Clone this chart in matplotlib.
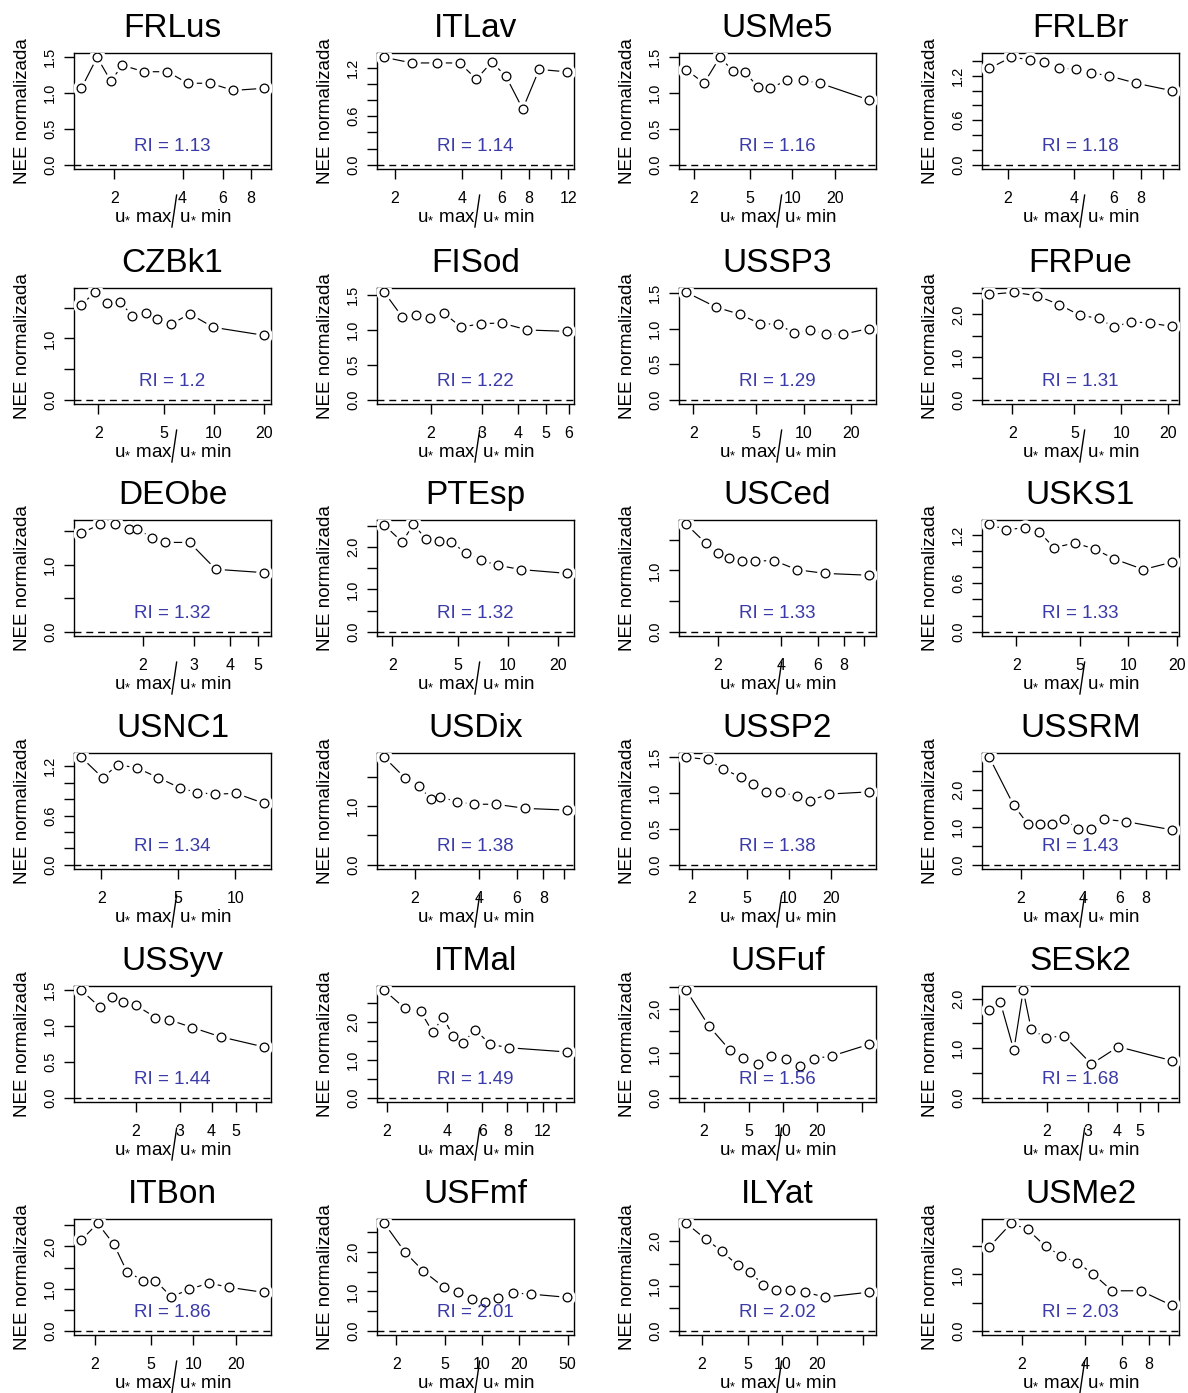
import numpy as np
import matplotlib
matplotlib.use("Agg")
import matplotlib.pyplot as plt
from matplotlib.ticker import FixedLocator, FixedFormatter, NullLocator

plt.rcParams['font.family'] = ['Liberation Sans', 'DejaVu Sans']
plt.rcParams['mathtext.fontset'] = 'custom'
plt.rcParams['mathtext.rm'] = 'Liberation Sans'
plt.rcParams['mathtext.it'] = 'Liberation Sans'

# sites, ordered by RI
sites = ['FRLus', 'ITLav', 'USMe5', 'FRLBr',
         'CZBk1', 'FISod', 'USSP3', 'FRPue',
         'DEObe', 'PTEsp', 'USCed', 'USKS1',
         'USNC1', 'USDix', 'USSP2', 'USSRM',
         'USSyv', 'ITMal', 'USFuf', 'SESk2',
         'ITBon', 'USFmf', 'ILYat', 'USMe2']

ri_values = [1.13, 1.14, 1.16, 1.18,
             1.2, 1.22, 1.29, 1.31,
             1.32, 1.32, 1.33, 1.33,
             1.34, 1.38, 1.38, 1.43,
             1.44, 1.49, 1.56, 1.68,
             1.86, 2.01, 2.02, 2.03]

# u* max / u* min
ustar_ratio = [
    [1.43, 1.68, 1.93, 2.17, 2.70, 3.43, 4.21, 5.30, 6.69, 9.11],
    [1.79, 2.38, 3.08, 3.90, 4.64, 5.43, 6.28, 7.49, 8.88, 11.8],
    [1.77, 2.36, 3.06, 3.80, 4.61, 5.70, 6.94, 9.11, 11.8, 15.7, 34.7],
    [1.65, 2.07, 2.51, 2.92, 3.42, 4.07, 4.76, 5.73, 7.60, 11.0],
    [1.58, 1.92, 2.27, 2.70, 3.22, 3.88, 4.51, 5.52, 7.14, 9.90, 20.0],
    [1.38, 1.59, 1.77, 1.99, 2.22, 2.54, 2.98, 3.52, 4.30, 5.89],
    [1.81, 2.80, 3.95, 5.28, 6.90, 8.63, 11.0, 13.9, 17.7, 25.7],
    [1.42, 2.04, 2.87, 4.00, 5.43, 7.17, 9.0, 11.5, 15.2, 21.1],
    [1.23, 1.43, 1.61, 1.80, 1.92, 2.15, 2.39, 2.90, 3.57, 5.22],
    [1.79, 2.30, 2.68, 3.21, 3.84, 4.54, 5.59, 6.88, 8.71, 12.0, 22.7],
    [1.41, 1.75, 2.0, 2.26, 2.60, 3.00, 3.70, 4.77, 6.49, 10.5],
    [1.36, 1.74, 2.26, 2.77, 3.44, 4.65, 6.21, 8.18, 12.4, 18.6],
    [1.57, 2.03, 2.44, 3.07, 3.97, 5.12, 6.30, 7.84, 10.1, 14.1],
    [1.44, 1.81, 2.09, 2.38, 2.62, 3.15, 3.79, 4.81, 6.58, 10.3],
    [1.83, 2.62, 3.37, 4.53, 5.52, 6.84, 8.62, 11.4, 14.1, 19.4, 37.4],
    [1.41, 1.85, 2.16, 2.49, 2.84, 3.25, 3.79, 4.37, 5.04, 6.42, 10.7],
    [1.21, 1.43, 1.61, 1.77, 2.0, 2.39, 2.70, 3.35, 4.35, 6.45],
    [1.95, 2.46, 2.96, 3.40, 3.82, 4.29, 4.81, 5.53, 6.57, 8.19, 15.8],
    [1.39, 2.21, 3.39, 4.43, 6.0, 7.83, 10.6, 14.1, 18.8, 27.2, 57.7],
    [1.13, 1.26, 1.44, 1.58, 1.71, 1.98, 2.36, 3.10, 4.04, 6.85],
    [1.61, 2.10, 2.74, 3.39, 4.42, 5.39, 7.0, 9.28, 12.9, 18.0, 31.5],
    [1.60, 2.37, 3.32, 4.92, 6.39, 8.31, 10.6, 13.5, 17.9, 25.1, 49.2],
    [1.47, 2.18, 2.98, 4.10, 5.20, 6.86, 8.88, 11.7, 15.8, 23.4, 56.0],
    [1.40, 1.78, 2.13, 2.59, 3.08, 3.67, 4.36, 5.36, 7.34, 10.3],
]

# normalised NEE
nee_norm = [
    [1.06, 1.49, 1.16, 1.38, 1.29, 1.29, 1.13, 1.13, 1.03, 1.06],
    [1.33, 1.26, 1.26, 1.26, 1.06, 1.27, 1.10, 0.69, 1.18, 1.15],
    [1.32, 1.13, 1.49, 1.30, 1.28, 1.08, 1.06, 1.17, 1.17, 1.13, 0.90],
    [1.30, 1.45, 1.42, 1.38, 1.30, 1.29, 1.24, 1.20, 1.10, 1.00],
    [1.55, 1.75, 1.57, 1.59, 1.37, 1.42, 1.32, 1.23, 1.40, 1.18, 1.05],
    [1.54, 1.19, 1.22, 1.17, 1.24, 1.04, 1.09, 1.10, 1.00, 0.98],
    [1.51, 1.30, 1.20, 1.07, 1.06, 0.94, 0.98, 0.92, 0.92, 1.00],
    [2.47, 2.52, 2.44, 2.23, 1.98, 1.91, 1.70, 1.83, 1.80, 1.72],
    [1.47, 1.60, 1.60, 1.53, 1.53, 1.40, 1.33, 1.33, 0.93, 0.88],
    [2.52, 2.12, 2.54, 2.19, 2.14, 2.12, 1.86, 1.69, 1.57, 1.47, 1.38],
    [1.75, 1.44, 1.28, 1.20, 1.16, 1.15, 1.16, 1.01, 0.95, 0.92],
    [1.33, 1.26, 1.29, 1.24, 1.04, 1.10, 1.02, 0.90, 0.77, 0.86],
    [1.31, 1.06, 1.22, 1.18, 1.06, 0.94, 0.88, 0.86, 0.87, 0.75],
    [1.83, 1.47, 1.34, 1.12, 1.16, 1.07, 1.03, 1.03, 0.96, 0.93],
    [1.49, 1.46, 1.33, 1.21, 1.12, 1.01, 1.01, 0.95, 0.89, 0.98, 1.01],
    [2.86, 1.58, 1.09, 1.09, 1.09, 1.21, 0.95, 0.95, 1.21, 1.15, 0.93],
    [1.50, 1.27, 1.40, 1.33, 1.29, 1.12, 1.09, 0.98, 0.85, 0.71],
    [2.84, 2.37, 2.28, 1.73, 2.13, 1.64, 1.45, 1.80, 1.41, 1.32, 1.21],
    [2.42, 1.61, 1.07, 0.90, 0.76, 0.93, 0.88, 0.72, 0.88, 0.94, 1.20],
    [1.78, 1.93, 0.96, 2.17, 1.38, 1.21, 1.25, 0.68, 1.03, 0.75],
    [2.15, 2.55, 2.05, 1.40, 1.19, 1.19, 0.80, 0.98, 1.13, 1.03, 0.91],
    [2.73, 1.99, 1.52, 1.10, 0.99, 0.81, 0.73, 0.83, 0.96, 0.93, 0.85],
    [2.40, 2.04, 1.78, 1.46, 1.32, 1.02, 0.90, 0.92, 0.86, 0.75, 0.86],
    [1.49, 1.91, 1.80, 1.50, 1.33, 1.21, 1.01, 0.71, 0.71, 0.45],
]

# x ticks of each panel, and the ones whose label R dropped
x_tick_values = [
    [2, 4, 6, 8], [2, 4, 6, 8, 10, 12], [2, 5, 10, 20], [2, 4, 6, 8, 10],
    [2, 5, 10, 20], [2, 3, 4, 5, 6], [2, 5, 10, 20], [2, 5, 10, 20],
    [2, 3, 4, 5], [2, 5, 10, 20], [2, 4, 6, 8, 10], [2, 5, 10, 20],
    [2, 5, 10], [2, 4, 6, 8, 10], [2, 5, 10, 20], [2, 4, 6, 8, 10],
    [2, 3, 4, 5, 6], [2, 4, 6, 8, 10, 12, 14], [2, 5, 10, 20, 50], [2, 3, 4, 5, 6],
    [2, 5, 10, 20], [2, 5, 10, 20, 50], [2, 5, 10, 20, 50], [2, 4, 6, 8, 10],
]
x_tick_hidden = [
    [], [10], [], [10],
    [], [], [], [],
    [], [], [10], [],
    [], [10], [], [10],
    [6], [10, 14], [50], [6],
    [], [], [50], [10],
]

# y tick spacing and spacing of the labelled ticks
y_tick_step = [0.5, 0.2, 0.5, 0.2,
               0.5, 0.5, 0.5, 0.5,
               0.5, 0.5, 0.5, 0.2,
               0.2, 0.5, 0.5, 0.5,
               0.5, 0.5, 0.5, 0.5,
               0.5, 0.5, 0.5, 0.5]
y_label_step = [0.5, 0.6, 0.5, 0.6,
                1.0, 0.5, 0.5, 1.0,
                1.0, 1.0, 1.0, 0.6,
                0.6, 1.0, 0.5, 1.0,
                0.5, 1.0, 1.0, 1.0,
                1.0, 1.0, 1.0, 1.0]

W, H = 1188, 1393
fig = plt.figure(figsize=(W / 100, H / 100), dpi=100)
fig.patch.set_facecolor('white')

col_left = [74, 377, 679, 982]
row_top = [53, 288, 520, 753, 986, 1219]
aw, ah = 197, 116

# the slash is drawn on its own, tall and thin, like the R plotmath label
xlab = r'$\mathregular{u_{*}\ max\;\;u_{*}\ min}$'

for i, site in enumerate(sites):
    r, c = divmod(i, 4)
    ax = fig.add_axes([col_left[c] / W, 1 - (row_top[r] + ah) / H, aw / W, ah / H])
    x = np.array(ustar_ratio[i])
    y = np.array(nee_norm[i])

    ax.set_xscale('log')
    # type = "b": line, white gap round each point, open circle
    ax.plot(x, y, '-', color='black', lw=0.85, zorder=2)
    ax.plot(x, y, 'o', ms=12, mfc='white', mec='none', zorder=3)
    ax.plot(x, y, 'o', ms=6.3, mfc='white', mec='black', mew=0.9, zorder=4)
    ax.axhline(0, color='black', lw=1.0, ls=(0, (5, 3.5)), zorder=1)

    lx = np.log10(x)
    span = lx.max() - lx.min()
    xlo, xhi = 10 ** (lx.min() - 0.04 * span), 10 ** (lx.max() + 0.04 * span)
    ax.set_xlim(xlo, xhi)
    top = y.max()
    ax.set_ylim(-0.04 * top, 1.04 * top)

    xt = [v for v in x_tick_values[i] if xlo <= v <= xhi]
    ax.xaxis.set_major_locator(FixedLocator(xt))
    ax.xaxis.set_major_formatter(FixedFormatter(
        ['' if v in x_tick_hidden[i] else str(v) for v in xt]))
    ax.xaxis.set_minor_locator(NullLocator())

    st = y_tick_step[i]
    yt = np.arange(0, 1.04 * top + 1e-9, st)
    ylabs = []
    for v in yt:
        k = v / y_label_step[i]
        ylabs.append(f'{v:.1f}' if abs(k - round(k)) < 1e-6 else '')
    ax.yaxis.set_major_locator(FixedLocator(yt))
    ax.yaxis.set_major_formatter(FixedFormatter(ylabs))

    ax.tick_params(direction='out', length=7, width=1.0)
    ax.tick_params(axis='x', pad=9, labelsize=11.5)
    ax.tick_params(axis='y', pad=5, labelsize=10.5, labelrotation=90)
    for lab in ax.get_yticklabels():
        lab.set_va('center')
    for sp in ax.spines.values():
        sp.set_linewidth(1.0)

    ax.text(0.5, 0.19, f'RI = {ri_values[i]}', transform=ax.transAxes,
            ha='center', va='center', fontsize=13.5, color='#3a3aa8', zorder=5)
    ax.set_title(site, fontsize=24, pad=11.5)
    ax.set_xlabel(xlab, fontsize=13.5, labelpad=0)
    ax.plot([0.497, 0.521], [-0.50, -0.225], color='black', lw=1.0,
            transform=ax.transAxes, clip_on=False)
    ax.set_ylabel('NEE normalizada', fontsize=13.5, labelpad=9)

fig.savefig('out.png', dpi=100, facecolor='white')
